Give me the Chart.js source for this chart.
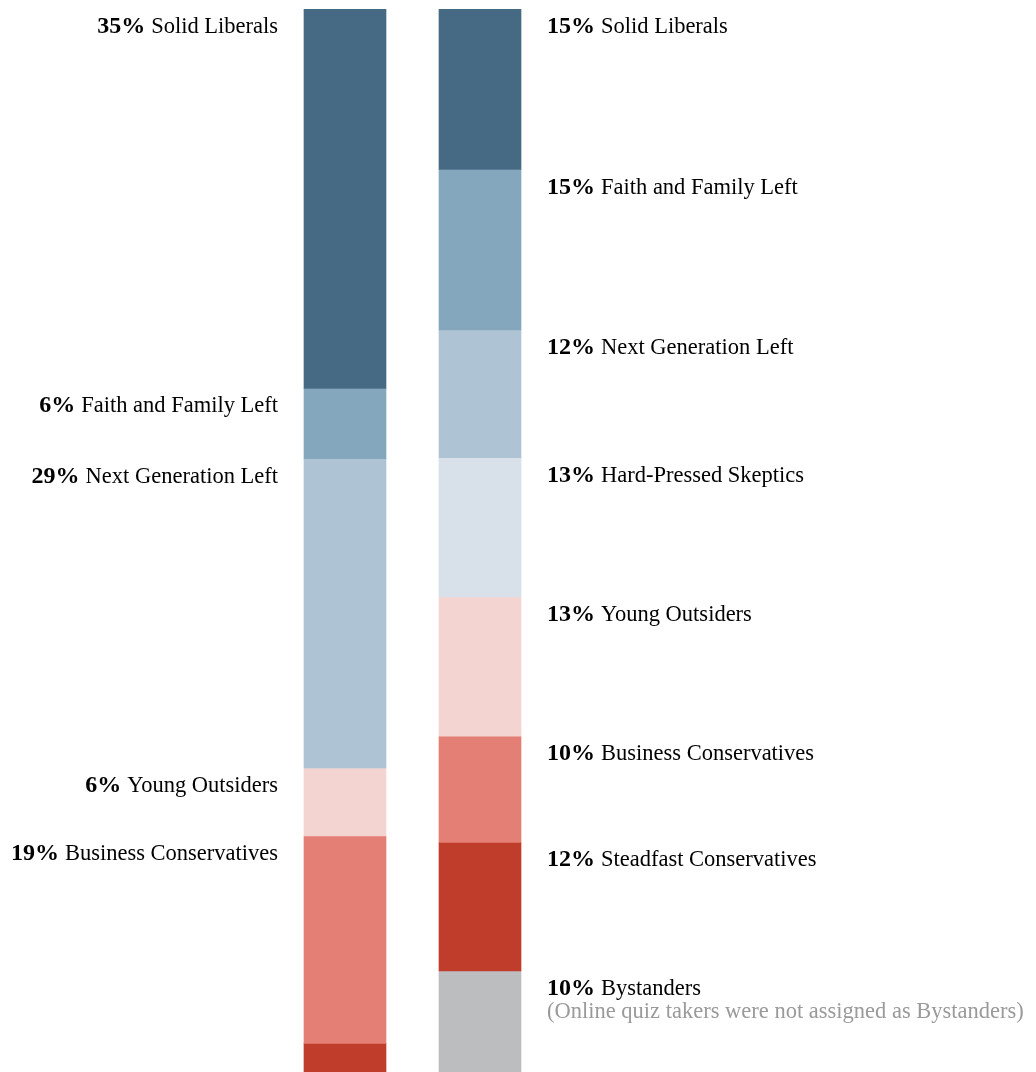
<!DOCTYPE html>
<html>
<head>
    <title>Typology segments</title>
    <script src="https://cdn.jsdelivr.net/npm/chart.js"></script>
    <style>
        body { margin: 0; background: #fff; }
        #wrap { width: 1036px; height: 1072px; position: relative; }
    </style>
</head>
<body>
<div id="wrap">
    <canvas id="typologyChart"></canvas>
</div>

<script>
// groups, top to bottom
const groups = ['Solid Liberals', 'Faith and Family Left', 'Next Generation Left', 'Hard-Pressed Skeptics',
                'Young Outsiders', 'Business Conservatives', 'Steadfast Conservatives', 'Bystanders'];
const colors = ['#466a84', '#84a7be', '#aec4d4', '#d8e1ea', '#f4d4d0', '#e47f76', '#c13d2b', '#bcbdbf'];

// segment sizes (share of bar height)
const leftValues  = [35.7, 6.6, 29.1, 0, 6.4, 19.5, 2.7, 0];
const rightValues = [15.1, 15.1, 12.0, 13.1, 13.1, 10.0, 12.1, 9.5];

// printed percentages (null = no label)
const leftPct  = [35, 6, 29, null, 6, 19, null, null];
const rightPct = [15, 15, 12, 13, 13, 10, 12, 10];

const bystanderNote = '(Online quiz takers were not assigned as Bystanders)';

const FONT = '"Liberation Serif", "Times New Roman", serif';
const BOLD_SIZE = 24;
const FONT_SIZE = 22.5;

const sideLabels = {
    id: 'sideLabels',
    afterDatasetsDraw(chart) {
        const ctx = chart.ctx;
        ctx.save();
        ctx.textBaseline = 'alphabetic';
        chart.data.datasets.forEach((ds, i) => {
            const meta = chart.getDatasetMeta(i);
            [leftPct, rightPct].forEach((pcts, side) => {
                const pct = pcts[i];
                if (pct === null) return;
                const bar = meta.data[side];
                const top = Math.min(bar.y, bar.base);
                const y = top + 24;
                const bold = pct + '% ';
                const name = groups[i];
                ctx.font = 'bold ' + BOLD_SIZE + 'px ' + FONT;
                const wb = ctx.measureText(bold).width;
                ctx.font = FONT_SIZE + 'px ' + FONT;
                const wn = ctx.measureText(name).width;
                let x;
                if (side === 0) {
                    x = bar.x - bar.width / 2 - 26 - wb - wn;
                } else {
                    x = bar.x + bar.width / 2 + 26;
                }
                ctx.textAlign = 'left';
                ctx.fillStyle = '#000';
                ctx.font = 'bold ' + BOLD_SIZE + 'px ' + FONT;
                ctx.fillText(bold, x, y);
                ctx.font = FONT_SIZE + 'px ' + FONT;
                ctx.fillText(name, x + wb, y);
                if (side === 1 && name === 'Bystanders') {
                    ctx.fillStyle = '#9a9a9a';
                    ctx.fillText(bystanderNote, x, y + 23);
                }
            });
        });
        ctx.restore();
    }
};

const ctx = document.getElementById('typologyChart').getContext('2d');
new Chart(ctx, {
    type: 'bar',
    data: {
        labels: ['left', 'right'],
        datasets: groups.map((g, i) => ({
            label: g,
            data: [leftValues[i], rightValues[i]],
            backgroundColor: colors[i],
            borderWidth: 0,
            barThickness: 82
        }))
    },
    options: {
        responsive: true,
        maintainAspectRatio: false,
        animation: false,
        layout: { padding: { left: 277.5, right: 488.5, top: 9, bottom: 0 } },
        scales: {
            x: { stacked: true, display: false },
            y: { stacked: true, display: false, reverse: true, min: 0, max: 100 }
        },
        plugins: {
            legend: { display: false },
            tooltip: { enabled: false }
        }
    },
    plugins: [sideLabels]
});
</script>
</body>
</html>
